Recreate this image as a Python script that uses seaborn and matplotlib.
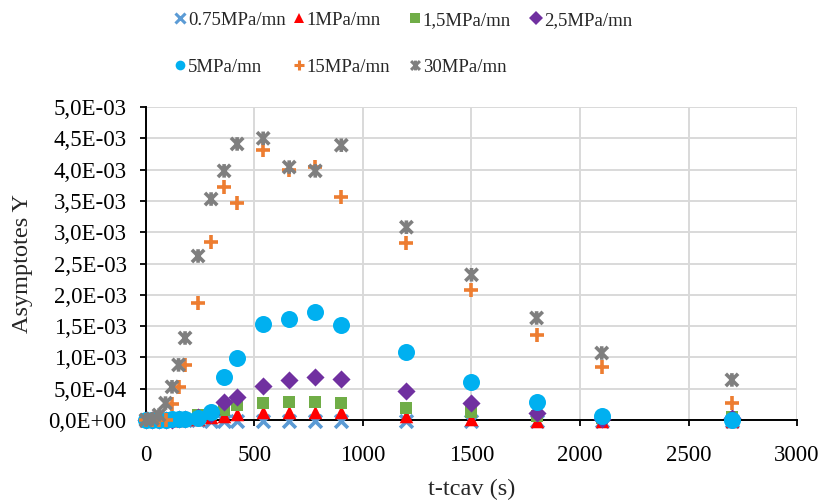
import matplotlib
matplotlib.use("Agg")
import matplotlib.pyplot as plt
import seaborn as sns
import numpy as np
from matplotlib.path import Path
from matplotlib.ticker import FuncFormatter, MultipleLocator

# ---- data ----
t = [0, 30, 60, 90, 120, 150, 180, 240, 300, 360, 420, 540, 660, 780, 900, 1200, 1500, 1800, 2100, 2700]
labels = ["0.75MPa/mn", "1MPa/mn", "1,5MPa/mn", "2,5MPa/mn", "5MPa/mn", "15MPa/mn", "30MPa/mn"]
y075 = [0, 0, 0, 0, 0, 0, 0, 0, -0.01, -0.02, -0.02, -0.02, -0.02, -0.02, -0.02, -0.02, -0.02, -0.02, -0.02, -0.02]
y1 = [0, 0, 0, 0, 0, 0, 0.01, 0.02, 0.04, 0.07, 0.09, 0.12, 0.13, 0.13, 0.12, 0.07, 0.01, -0.01, -0.02, -0.02]
y15 = [0, 0, 0, 0, 0, 0.01, 0.02, 0.08, 0.10, 0.16, 0.24, 0.27, 0.29, 0.28, 0.27, 0.19, 0.13, 0.06, 0.03, 0.05]
y25 = [0, 0, 0, 0, 0, 0.01, 0.02, 0.05, 0.10, 0.29, 0.36, 0.54, 0.64, 0.68, 0.65, 0.47, 0.27, 0.11, 0.02, 0.03]
y5 = [0, 0, 0, 0, 0.01, 0.01, 0.02, 0.03, 0.12, 0.68, 0.99, 1.54, 1.62, 1.73, 1.52, 1.08, 0.60, 0.28, 0.07, 0.0]
y15mp = [0, 0, 0, 0, 0.25, 0.53, 0.88, 1.87, 2.84, 3.72, 3.47, 4.31, 4.00, 4.04, 3.56, 2.82, 2.08, 1.36, 0.85, 0.27]
y30 = [0, 0.02, 0.08, 0.27, 0.53, 0.88, 1.31, 2.62, 3.53, 3.98, 4.41, 4.50, 4.04, 3.98, 4.39, 3.08, 2.32, 1.63, 1.07, 0.64]
scale = 1e-3

# Excel-like star marker: an X plus a vertical bar
star = Path([(-1, -1), (1, 1), (-1, 1), (1, -1), (0, -1.1), (0, 1.1)],
            [Path.MOVETO, Path.LINETO, Path.MOVETO, Path.LINETO, Path.MOVETO, Path.LINETO])

series = [y075, y1, y15, y25, y5, y15mp, y30]
colors = ["#5B9BD5", "#FF0000", "#70AD47", "#7030A0", "#00B0F0", "#ED7D31", "#7F7F7F"]
markers = ["x", "^", "s", "D", "o", "+", star]
sizes = [85, 95, 85, 85, 150, 110, 95]
kind = ["line", "fill", "fill", "fill", "fill", "line", "path"]

sns.set_style("white")
plt.rcParams["font.family"] = ["Liberation Serif", "DejaVu Serif"]

fig = plt.figure(figsize=(8.22, 5.01), dpi=100)
ax = fig.add_axes([0.1776, 0.1617, 0.792, 0.6247])

handles = []
for ys, c, m, s, k, lab in zip(series, colors, markers, sizes, kind, labels):
    yv = np.array(ys) * scale
    if k == "fill":
        sns.scatterplot(x=t, y=yv, ax=ax, marker=m, color=c, s=s, edgecolor=c,
                        linewidth=0, clip_on=False, zorder=3, legend=False)
    elif k == "line":
        sns.scatterplot(x=t, y=yv, ax=ax, marker=m, color=c, s=s,
                        linewidth=2.6, clip_on=False, zorder=3, legend=False)
    else:
        sns.scatterplot(x=t, y=yv, ax=ax, marker=m, s=s, facecolor="none",
                        edgecolor=c, linewidth=2.6, clip_on=False, zorder=3, legend=False)
    h = plt.Line2D([], [], linestyle="none", marker=m, color=c, markersize=7,
                   markeredgewidth=0 if k == "fill" else 2.2,
                   markerfacecolor=c if k == "fill" else "none", markeredgecolor=c)
    handles.append(h)

ax.set_xlim(0, 3000)
ax.set_ylim(0, 5e-3)
ax.xaxis.set_major_locator(MultipleLocator(500))
ax.yaxis.set_major_locator(MultipleLocator(0.5e-3))

def yfmt(v, pos):
    return f"{v:.1E}".replace(".", ",")
ax.yaxis.set_major_formatter(FuncFormatter(yfmt))

ax.grid(True, color="#d9d9d9", linewidth=1.4)
ax.set_axisbelow(True)
for sp in ["top", "right"]:
    ax.spines[sp].set_visible(False)
for sp in ["left", "bottom"]:
    ax.spines[sp].set_color("black")
    ax.spines[sp].set_linewidth(1.4)
    ax.spines[sp].set_zorder(2)
ax.tick_params(axis="both", direction="out", length=4, width=1.3, color="black",
               labelsize=16.5, labelcolor="black", left=True, bottom=True)
ax.tick_params(axis="x", pad=14)
ax.tick_params(axis="y", pad=10)

ax.set_xlabel("t-tcav (s)", fontsize=17.5, labelpad=9)
ax.set_ylabel("Asymptotes Y", fontsize=17.5, labelpad=11)

# legend: 4 columns at fixed positions, 2 rows
col_x = [170, 289, 405, 526]
cols = [[0, 4], [1, 5], [2, 6], [3]]
for cx, idx in zip(col_x, cols):
    fig.legend(handles=[handles[i] for i in idx], labels=[labels[i] for i in idx],
               loc="upper left", bbox_to_anchor=(cx / 822, 1 - 8 / 501),
               frameon=False, fontsize=13.5, handlelength=0.7, handletextpad=0.05,
               labelspacing=1.6, borderaxespad=0, borderpad=0.2)

fig.savefig("out.png", dpi=100)
